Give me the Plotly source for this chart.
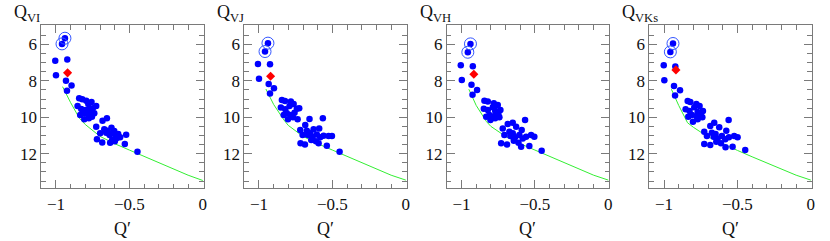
import plotly.graph_objects as go

# ---------------- data ----------------
panel_labels = ["Q<sub>VI</sub>", "Q<sub>VJ</sub>", "Q<sub>VH</sub>", "Q<sub>VKs</sub>"]
x_title = "Q′"

# panel 1 : Q_VI
p1_x = [-1.005, -0.923, -1.000, -0.932, -0.894, -0.925,
        -0.842, -0.821, -0.794, -0.758, -0.780, -0.853, -0.726, -0.828, -0.798, -0.771,
        -0.749, -0.812, -0.785, -0.762, -0.739, -0.835, -0.755, -0.807, -0.776, -0.653,
        -0.683, -0.726, -0.671, -0.649, -0.622, -0.603, -0.699, -0.658, -0.635, -0.617,
        -0.594, -0.576, -0.522, -0.585, -0.563, -0.617, -0.599, -0.721, -0.685, -0.531,
        -0.445, -0.631]
p1_y = [6.90, 6.83, 7.69, 8.00, 8.26, 8.54,
        8.96, 9.01, 9.09, 9.16, 9.27, 9.38, 9.38, 9.54, 9.60, 9.53,
        9.51, 9.78, 9.82, 9.75, 9.78, 9.87, 9.97, 10.11, 10.06, 10.06,
        10.19, 10.52, 10.66, 10.74, 10.57, 10.75, 10.88, 10.85, 10.97, 10.88,
        10.99, 10.92, 10.96, 11.14, 11.10, 11.25, 11.32, 11.21, 11.38, 11.47,
        11.89, 11.40]
p1_circ_x = [-0.939, -0.959]
p1_circ_y = [5.66, 5.97]
p1_red_x = [-0.921]
p1_red_y = [7.56]
p1_line_x = [-0.955, -0.90, -0.84, -0.80, -0.70, -0.60, -0.50, -0.40, -0.30, -0.20, -0.10, 0.0]
p1_line_y = [8.32, 9.20, 10.06, 10.40, 11.05, 11.45, 11.80, 12.15, 12.52, 12.87, 13.18, 13.47]

# panel 2 : Q_VJ
p2_x = [-1.007, -0.925, -1.000, -0.934, -0.898, -0.925,
        -0.844, -0.823, -0.783, -0.764, -0.851, -0.821, -0.792, -0.742, -0.726, -0.810,
        -0.783, -0.758, -0.832, -0.803, -0.769, -0.737, -0.656, -0.565, -0.685, -0.719,
        -0.674, -0.628, -0.590, -0.651, -0.703, -0.667, -0.635, -0.606, -0.583, -0.560,
        -0.526, -0.503, -0.644, -0.612, -0.594, -0.717, -0.687, -0.538, -0.451]
p2_y = [7.07, 7.09, 7.89, 8.17, 8.41, 8.70,
        9.05, 9.10, 9.14, 9.27, 9.47, 9.56, 9.38, 9.53, 9.51, 9.78,
        9.87, 9.75, 9.87, 10.11, 10.00, 10.11, 10.09, 10.06, 10.42, 10.70,
        10.74, 10.66, 10.61, 10.88, 10.98, 10.98, 11.07, 10.94, 11.10, 11.01,
        11.03, 11.03, 11.25, 11.32, 11.43, 11.43, 11.49, 11.56, 11.89]
p2_circ_x = [-0.939, -0.959]
p2_circ_y = [5.93, 6.39]
p2_red_x = [-0.921]
p2_red_y = [7.75]
p2_line_x = [-0.953, -0.90, -0.83, -0.80, -0.70, -0.60, -0.50, -0.40, -0.30, -0.20, -0.10, 0.0]
p2_line_y = [8.45, 9.30, 10.15, 10.45, 11.05, 11.45, 11.80, 12.15, 12.52, 12.87, 13.18, 13.45]

# panel 3 : Q_VH
p3_x = [-1.005, -0.923, -0.998, -0.932, -0.894, -0.925,
        -0.844, -0.821, -0.780, -0.753, -0.848, -0.821, -0.787, -0.771, -0.735, -0.810,
        -0.776, -0.749, -0.832, -0.803, -0.771, -0.742, -0.651, -0.567, -0.685, -0.719,
        -0.674, -0.628, -0.590, -0.651, -0.708, -0.667, -0.635, -0.606, -0.583, -0.560,
        -0.526, -0.504, -0.644, -0.612, -0.594, -0.730, -0.690, -0.538, -0.454]
p3_y = [7.14, 7.20, 7.95, 8.22, 8.50, 8.77,
        9.09, 9.14, 9.23, 9.32, 9.53, 9.60, 9.45, 9.64, 9.60, 9.87,
        9.93, 9.82, 9.97, 10.15, 10.06, 10.00, 10.30, 10.15, 10.37, 10.61,
        10.79, 10.52, 10.70, 10.88, 10.98, 11.03, 11.10, 10.98, 11.16, 11.07,
        10.98, 11.07, 11.29, 11.40, 11.62, 11.43, 11.49, 11.58, 11.84]
p3_circ_x = [-0.939, -0.957]
p3_circ_y = [5.97, 6.43]
p3_red_x = [-0.916]
p3_red_y = [7.64]
p3_line_x = [-0.950, -0.90, -0.83, -0.80, -0.70, -0.60, -0.50, -0.40, -0.30, -0.20, -0.10, 0.0]
p3_line_y = [8.46, 9.35, 10.24, 10.50, 11.05, 11.45, 11.80, 12.15, 12.52, 12.87, 13.18, 13.45]

# panel 4 : Q_VKs
p4_x = [-1.002, -0.923, -0.998, -0.932, -0.891, -0.925,
        -0.839, -0.821, -0.780, -0.758, -0.853, -0.826, -0.794, -0.771, -0.735, -0.810,
        -0.776, -0.749, -0.835, -0.803, -0.771, -0.739, -0.658, -0.560, -0.685, -0.726,
        -0.674, -0.624, -0.576, -0.649, -0.708, -0.662, -0.635, -0.606, -0.583, -0.558,
        -0.522, -0.499, -0.644, -0.612, -0.581, -0.726, -0.685, -0.533, -0.447]
p4_y = [7.14, 7.21, 7.97, 8.28, 8.52, 8.81,
        9.10, 9.16, 9.27, 9.38, 9.56, 9.65, 9.45, 9.71, 9.65, 9.87,
        9.97, 9.89, 9.97, 10.24, 10.11, 10.00, 10.30, 10.15, 10.48, 10.79,
        10.85, 10.55, 10.74, 10.92, 11.03, 11.07, 11.16, 11.03, 11.21, 11.10,
        11.03, 11.10, 11.34, 11.43, 11.65, 11.47, 11.52, 11.62, 11.80]
p4_circ_x = [-0.939, -0.957]
p4_circ_y = [5.95, 6.41]
p4_red_x = [-0.919]
p4_red_y = [7.40]
p4_line_x = [-0.950, -0.90, -0.84, -0.80, -0.70, -0.60, -0.50, -0.40, -0.30, -0.20, -0.10, 0.0]
p4_line_y = [8.46, 9.35, 10.30, 10.55, 11.08, 11.47, 11.82, 12.17, 12.52, 12.87, 13.18, 13.45]

x_tickvals = [-1, -0.5, 0]
x_ticktext = ["−1", "−0.5", "0"]
y_tickvals = [6, 8, 10, 12]
y_ticktext = ["6", "8", "10", "12"]

panels = [
    (p1_x, p1_y, p1_circ_x, p1_circ_y, p1_red_x, p1_red_y, p1_line_x, p1_line_y),
    (p2_x, p2_y, p2_circ_x, p2_circ_y, p2_red_x, p2_red_y, p2_line_x, p2_line_y),
    (p3_x, p3_y, p3_circ_x, p3_circ_y, p3_red_x, p3_red_y, p3_line_x, p3_line_y),
    (p4_x, p4_y, p4_circ_x, p4_circ_y, p4_red_x, p4_red_y, p4_line_x, p4_line_y),
]

# ---------------- layout ----------------
W, H = 830, 241
left_px = [41.5, 245.5, 449.0, 652.5]
panel_w = 163.0
top_px, bottom_px = 25.3, 188.3
FONT = "Liberation Serif"
FRAME = "#7a7a7a"
BLUE = "#0000ff"

fig = go.Figure()
layout = dict(
    width=W, height=H, margin=dict(l=0, r=0, t=0, b=0),
    paper_bgcolor="white", plot_bgcolor="white", showlegend=False,
    font=dict(family=FONT, size=17, color="#111"),
)
annotations = []
for i, (bx, by, cx, cy, rx, ry, lx, ly) in enumerate(panels):
    n = "" if i == 0 else str(i + 1)
    xa, ya = "x" + n, "y" + n
    fig.add_trace(go.Scatter(x=lx, y=ly, mode="lines", xaxis=xa, yaxis=ya,
                             line=dict(color="#33ee33", width=1)))
    fig.add_trace(go.Scatter(x=bx, y=by, mode="markers", xaxis=xa, yaxis=ya,
                             marker=dict(color=BLUE, size=6.5, line=dict(width=0))))
    fig.add_trace(go.Scatter(x=cx, y=cy, mode="markers", xaxis=xa, yaxis=ya,
                             marker=dict(color=BLUE, size=6.5, line=dict(width=0))))
    fig.add_trace(go.Scatter(x=cx, y=cy, mode="markers", xaxis=xa, yaxis=ya,
                             marker=dict(symbol="circle-open", color="#3355ff", size=12,
                                         line=dict(width=1, color="#3355ff"))))
    fig.add_trace(go.Scatter(x=rx, y=ry, mode="markers", xaxis=xa, yaxis=ya,
                             marker=dict(symbol="diamond", color="#ff0000", size=7,
                                         line=dict(width=0))))
    x0 = left_px[i] / W
    x1 = (left_px[i] + panel_w) / W
    common = dict(showline=True, linecolor=FRAME, linewidth=1, mirror="allticks",
                  ticks="inside", tickcolor=FRAME, tickwidth=1, ticklen=8,
                  showgrid=False, zeroline=False,
                  tickfont=dict(family=FONT, size=17, color="#111"))
    layout["xaxis" + n] = dict(common, domain=[x0, x1], range=[-1.1, 0.005],
                               anchor=ya, tickvals=x_tickvals, ticktext=x_ticktext,
                               minor=dict(dtick=0.1, tick0=0, ticklen=4.5, tickcolor=FRAME,
                                          ticks="inside", showgrid=False))
    layout["yaxis" + n] = dict(common, domain=[1 - bottom_px / H, 1 - top_px / H],
                               range=[13.9, 4.95], anchor=xa,
                               tickvals=y_tickvals, ticktext=y_ticktext,
                               minor=dict(dtick=0.5, tick0=0, ticklen=4.5, tickcolor=FRAME,
                                          ticks="inside", showgrid=False))
    annotations.append(dict(text=panel_labels[i], xref="paper", yref="paper",
                            x=(left_px[i] - 29) / W, y=1 - 13 / H, xanchor="left",
                            yanchor="middle", showarrow=False,
                            font=dict(family=FONT, size=18, color="#111")))
    annotations.append(dict(text=x_title, xref="paper", yref="paper",
                            x=(left_px[i] + panel_w / 2) / W, y=1 - 229 / H,
                            xanchor="center", yanchor="middle", showarrow=False,
                            font=dict(family=FONT, size=18, color="#111")))
layout["annotations"] = annotations
fig.update_layout(**layout)
fig.write_html("out.html", config={"displayModeBar": False},
               post_script="document.body.style.margin='0px';")
